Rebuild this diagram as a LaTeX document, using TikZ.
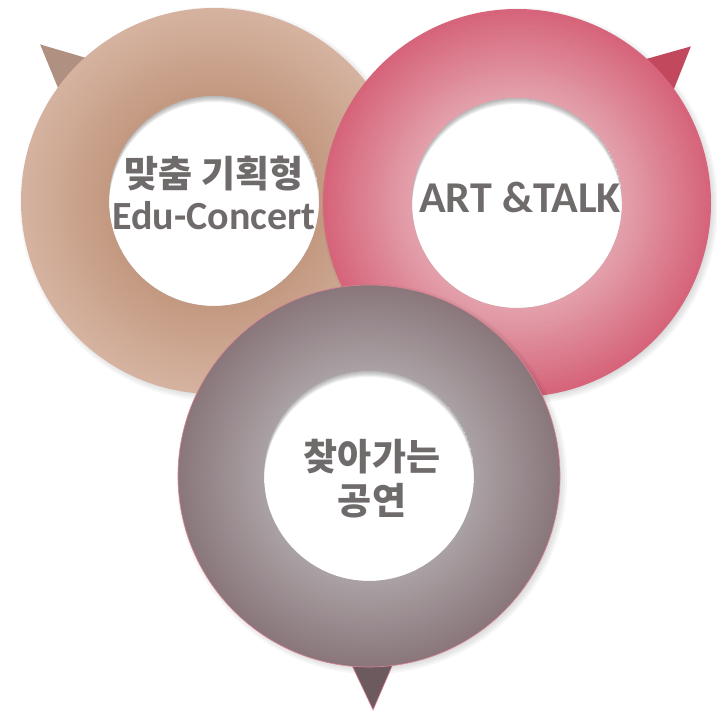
\documentclass[tikz,border=0pt]{standalone}
\usepackage{fontspec}
\newfontfamily\korfont{Noto Sans CJK KR}
\newfontfamily\latfont{Carlito}

\definecolor{tanIn}{HTML}{C39880}
\definecolor{tanOut}{HTML}{D5B3A0}
\definecolor{tanTail}{HTML}{B09080}
\definecolor{pinkIn}{HTML}{E3A2AD}
\definecolor{pinkOut}{HTML}{D6647A}
\definecolor{pinkTail}{HTML}{C2485E}
\definecolor{grayIn}{HTML}{ABA2A5}
\definecolor{grayOut}{HTML}{89777B}
\definecolor{grayTail}{HTML}{6C5A5F}
\definecolor{textGray}{HTML}{6F6B6B}

\begin{document}
\begin{tikzpicture}[
    x=1pt, y=1pt,
    ring/.style={circle, inner sep=0pt},
    hole/.style={circle, minimum size=210pt, inner sep=0pt, fill=white},
    softshadow/.style={black, opacity=0.035},
    ringtext/.style={text=textGray, align=center,
      font=\korfont\bfseries\fontsize{37}{44}\selectfont},
    latin/.style={font=\latfont\bfseries\fontsize{#1}{#1}\selectfont}
  ]
  \useasboundingbox (0,0) rectangle (717,713);

  \coordinate (tanC) at (214,512);
  \coordinate (pinkC) at (517,510);
  \coordinate (grayC) at (369,237);

  % rings: shadow, tail, gradient, hole
  \foreach \n/\c/\ci/\co/\ct/\R/\a in {tan/tanC/tanIn/tanOut/tanTail/193/138,
      pink/pinkC/pinkIn/pinkOut/pinkTail/194/42,
      gray/grayC/grayIn/grayOut/grayTail/191/-89} {
    \foreach \r in {-6,-4,...,4}
      \fill [softshadow] ([shift={(3,-3)}]\c) circle (\R+\r);
    \fill [\ct] (\c) -- ([shift={(\a-6:\R)}]\c) -- ([shift={(\a:234)}]\c)
      -- ([shift={(\a+6:\R)}]\c) -- cycle;
    \foreach \k [evaluate=\k as \r using \R-(\R-105)*\k/40,
        evaluate=\k as \p using int(100*\k/40)] in {0,...,40}
      \fill [\ci!\p!\co] (\c) circle (\r);
    \node (\n) [ring, minimum size=2*\R] at (\c) {};
    \node (\n Hole) [hole] at (\n.center) {};
  }
  \draw [pinkOut!80, line width=0.6pt] (gray.center) circle (191);
  \draw [pinkOut!80, line width=0.6pt] ([shift={(-95:191)}]gray.center)
    -- ([shift={(-89:234)}]gray.center) -- ([shift={(-83:191)}]gray.center);

  % inner shadows
  \foreach \h in {tanHole, pinkHole, grayHole} {
    \begin{scope}
      \clip (\h.center) circle (105);
      \foreach \s in {1,...,6}
        \fill [black, opacity=0.05, even odd rule] (\h.center) circle (105)
          ([yshift=-\s]\h.center) circle (105);
    \end{scope}
  }

  \node (tanText) [ringtext] at ([yshift=8]tanHole.center)
    {맞춤 기획형\\[-2pt]{\latfont\fontsize{40}{40}\selectfont Edu-Concert}};
  \node (pinkText) [ringtext, latin=44] at ([xshift=3, yshift=6]pinkHole.center) {ART \&TALK};
  \node (grayText) [ringtext] at ([xshift=3, yshift=-3]grayHole.center) {찾아가는\\공연};
\end{tikzpicture}
\end{document}
